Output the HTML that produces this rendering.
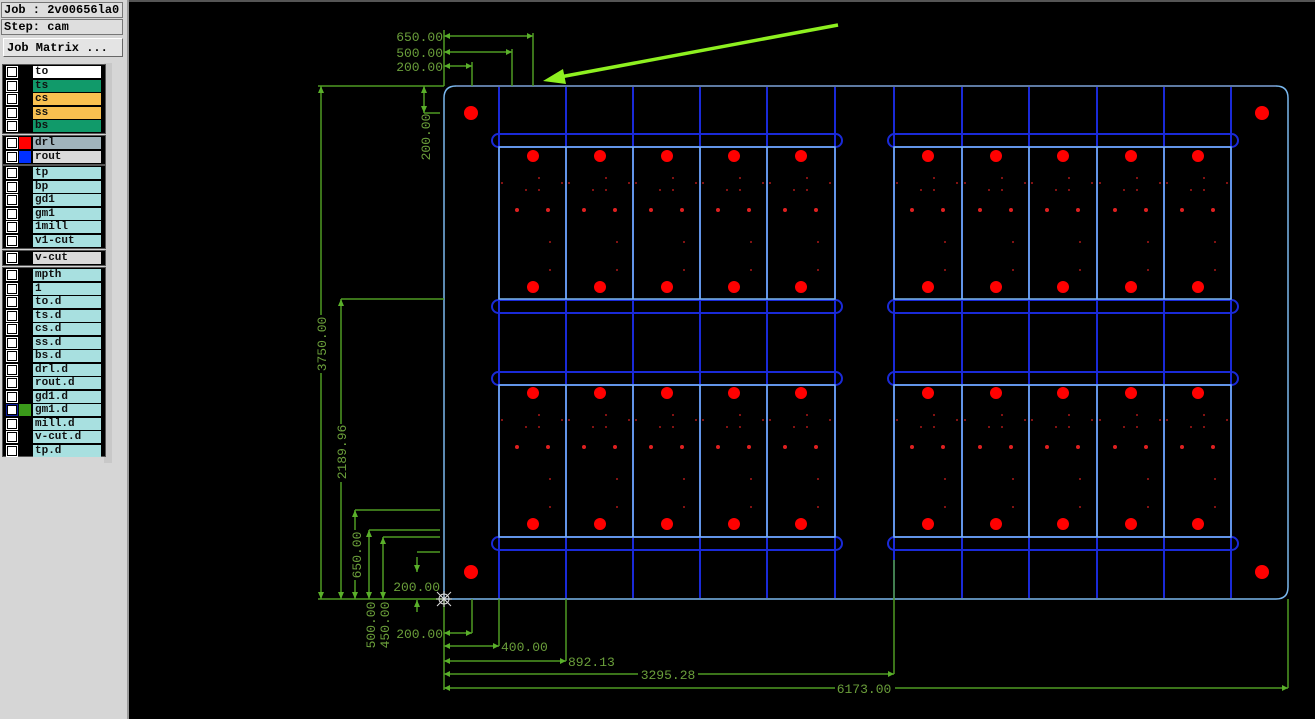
<!DOCTYPE html>
<html><head><meta charset="utf-8"><style>
body{margin:0;width:1315px;height:719px;background:#000;overflow:hidden;position:relative;font-family:"Liberation Mono","DejaVu Sans Mono",monospace;}
#panel{position:absolute;left:0;top:0;width:127px;height:719px;background:#d6d6d6;border-right:2px solid #9a9a9a;}
.hb{position:absolute;left:1px;width:122px;height:15px;border:1px solid #777;background:#dedede;font-size:12px;font-weight:bold;line-height:15px;padding-left:2px;box-sizing:border-box;height:16px;}
.btn{position:absolute;left:3px;top:38px;width:120px;height:19px;background:#e4e4e4;border:1px solid #fff;border-right-color:#666;border-bottom-color:#666;font-size:12px;font-weight:bold;line-height:19px;padding-left:3px;box-sizing:border-box;}
.grp{position:absolute;left:2px;width:102px;background:#000;border:1px solid #555;}
.sb{position:absolute;left:104px;top:63px;width:8px;height:400px;background:#c8c8c8;}
.r{position:absolute;left:0;height:12px;width:100px;}
.cb{position:absolute;left:4px;top:1px;width:8px;height:8px;background:#fff;border:1px solid #000;outline:1px solid #fff;}
.sw{position:absolute;left:16px;top:0;width:12px;height:12px;}
.lb{position:absolute;left:30px;top:0;width:68px;height:12px;font-size:11px;font-weight:bold;line-height:12px;padding-left:2px;box-sizing:border-box;color:#111;}
svg{position:absolute;left:0;top:0;}
</style></head><body>
<svg width="1315" height="719" xmlns="http://www.w3.org/2000/svg">
<defs>
<g id="cell">
<circle cx="34" cy="9" r="6" fill="#f00"/>
<circle cx="34" cy="140" r="6" fill="#f00"/>
<circle cx="3" cy="36" r="0.9" fill="#e02020"/>
<circle cx="40" cy="31" r="0.9" fill="#e02020"/>
<circle cx="63" cy="36" r="0.9" fill="#e02020"/>
<circle cx="27" cy="43" r="0.9" fill="#e02020"/>
<circle cx="40" cy="43" r="0.9" fill="#e02020"/>
<circle cx="18" cy="63" r="2" fill="#e02020"/>
<circle cx="49" cy="63" r="2" fill="#e02020"/>
<circle cx="51" cy="95" r="0.9" fill="#e02020"/>
<circle cx="51" cy="123" r="0.9" fill="#e02020"/>
</g>
</defs>
<line x1="129" y1="1" x2="1315" y2="1" stroke="#555" stroke-width="2"/>
<!-- dark blue verticals -->
<g stroke="#1a2ad8" stroke-width="2">
<line x1="499" y1="87" x2="499" y2="598"/><line x1="566" y1="87" x2="566" y2="598"/><line x1="633" y1="87" x2="633" y2="598"/><line x1="700" y1="87" x2="700" y2="598"/><line x1="767" y1="87" x2="767" y2="598"/><line x1="835" y1="87" x2="835" y2="598"/>
<line x1="894" y1="87" x2="894" y2="598"/><line x1="962" y1="87" x2="962" y2="598"/><line x1="1029" y1="87" x2="1029" y2="598"/><line x1="1097" y1="87" x2="1097" y2="598"/><line x1="1164" y1="87" x2="1164" y2="598"/><line x1="1231" y1="87" x2="1231" y2="598"/>
</g>
<!-- slots -->
<g fill="none" stroke="#1a2ad8" stroke-width="2">
<rect x="492" y="134" width="350" height="13" rx="6.5"/><rect x="492" y="300" width="350" height="13" rx="6.5"/>
<rect x="492" y="372" width="350" height="13" rx="6.5"/><rect x="492" y="537" width="350" height="13" rx="6.5"/>
<rect x="888" y="134" width="350" height="13" rx="6.5"/><rect x="888" y="300" width="350" height="13" rx="6.5"/>
<rect x="888" y="372" width="350" height="13" rx="6.5"/><rect x="888" y="537" width="350" height="13" rx="6.5"/>
</g>
<!-- panels light blue -->
<g fill="none" stroke="#7ab8ee" stroke-width="1.5">
<rect x="499" y="147" width="336" height="152"/><rect x="894" y="147" width="337" height="152"/>
<rect x="499" y="385" width="336" height="152"/><rect x="894" y="385" width="337" height="152"/>
<path d="M566 147V299M633 147V299M700 147V299M767 147V299M962 147V299M1029 147V299M1097 147V299M1164 147V299M566 385V537M633 385V537M700 385V537M767 385V537M962 385V537M1029 385V537M1097 385V537M1164 385V537"/>
</g>
<!-- board outline -->
<path d="M444 599V98Q444 86 456 86H1276Q1288 86 1288 98V587Q1288 599 1276 599Z" fill="none" stroke="#7ab8ee" stroke-width="1.5"/>
<line x1="456" y1="86" x2="1276" y2="86" stroke="#6a84b0" stroke-width="1.5"/>
<!-- corner fiducials -->
<g fill="#f00"><circle cx="471" cy="113" r="7"/><circle cx="1262" cy="113" r="7"/><circle cx="471" cy="572" r="7"/><circle cx="1262" cy="572" r="7"/></g>
<!-- cells -->
<use href="#cell" x="499" y="147"/><use href="#cell" x="566" y="147"/><use href="#cell" x="633" y="147"/><use href="#cell" x="700" y="147"/><use href="#cell" x="767" y="147"/>
<use href="#cell" x="894" y="147"/><use href="#cell" x="962" y="147"/><use href="#cell" x="1029" y="147"/><use href="#cell" x="1097" y="147"/><use href="#cell" x="1164" y="147"/>
<use href="#cell" x="499" y="384"/><use href="#cell" x="566" y="384"/><use href="#cell" x="633" y="384"/><use href="#cell" x="700" y="384"/><use href="#cell" x="767" y="384"/>
<use href="#cell" x="894" y="384"/><use href="#cell" x="962" y="384"/><use href="#cell" x="1029" y="384"/><use href="#cell" x="1097" y="384"/><use href="#cell" x="1164" y="384"/>
<!-- dimensions -->
<g stroke="#4f9a22" stroke-width="1.5" fill="none">
<path d="M318 86H444M318 599H444M341 299H444M355 510H440M369 530H440M383 537H440M417 552H440M424 113H440"/>
<path d="M444 30V86M472 62V86M512 49V86M533 33V86"/>
<path d="M444 36H533M444 52H512M444 66H472"/>
<path d="M321 86V599M341 299V599M355 510V599M369 530V599M383 537V599M424 86V113M417 557V572M417 600V612"/>
<path d="M444 599V690M472 599V633M499 599V646M566 599V661M894 560V674M1288 599V688"/>
<path d="M444 633H472M444 646H499M444 661H566M444 674H894M444 688H1288"/>
</g>
<g fill="#5ab02a">
<path d="M444 36l6-3v6zM533 36l-6-3v6zM444 52l6-3v6zM512 52l-6-3v6zM444 66l6-3v6zM472 66l-6-3v6z"/>
<path d="M321 86l-3 7h6zM321 599l-3-7h6zM341 299l-3 7h6zM341 599l-3-7h6zM355 510l-3 7h6zM355 599l-3-7h6zM369 530l-3 7h6zM369 599l-3-7h6zM383 537l-3 7h6zM383 599l-3-7h6zM424 86l-3 7h6zM424 113l-3-7h6zM417 572l-3-7h6zM417 600l-3 7h6z"/>
<path d="M444 633l6-3v6zM472 633l-6-3v6zM444 646l6-3v6zM499 646l-6-3v6zM444 661l6-3v6zM566 661l-6-3v6zM444 674l6-3v6zM894 674l-6-3v6zM444 688l6-3v6zM1288 688l-6-3v6z"/>
</g>
<g font-family="Liberation Mono, monospace" font-size="13" fill="#6a9e3a">
<text x="443" y="41" text-anchor="end">650.00</text>
<text x="443" y="57" text-anchor="end">500.00</text>
<text x="443" y="71" text-anchor="end">200.00</text>
<text x="443" y="638" text-anchor="end">200.00</text>
<text x="440" y="591" text-anchor="end">200.00</text>
<text x="501" y="651">400.00</text>
<text x="568" y="666">892.13</text>
<rect x="638" y="668" width="60" height="13" fill="#000"/>
<text x="668" y="679" text-anchor="middle">3295.28</text>
<rect x="835" y="682" width="60" height="13" fill="#000"/>
<text x="864" y="693" text-anchor="middle">6173.00</text>
<rect x="314" y="315" width="14" height="58" fill="#000"/>
<text transform="translate(326,344) rotate(-90)" text-anchor="middle">3750.00</text>
<rect x="334" y="424" width="14" height="58" fill="#000"/>
<text transform="translate(346,452) rotate(-90)" text-anchor="middle">2189.96</text>
<rect x="349" y="530" width="14" height="50" fill="#000"/>
<text transform="translate(361,555) rotate(-90)" text-anchor="middle">650.00</text>
<text transform="translate(430,137) rotate(-90)" text-anchor="middle">200.00</text>
<text transform="translate(375,625) rotate(-90)" text-anchor="middle">500.00</text>
<text transform="translate(389,625) rotate(-90)" text-anchor="middle">450.00</text>
</g>
<!-- crosshair -->
<g stroke="#ddd" stroke-width="1" fill="none"><circle cx="444" cy="599" r="5"/><path d="M437 592L451 606M451 592L437 606M444 591V607M436 599H452"/></g>
<!-- green arrow -->
<line x1="838" y1="25" x2="560" y2="77" stroke="#8ef020" stroke-width="3.5"/>
<path d="M543 81L563 69L566 84Z" fill="#8ef020"/>
</svg>
<div id="panel">
<div class="hb" style="top:2px">Job : 2v00656la0</div>
<div class="hb" style="top:19px">Step: cam</div>
<div class="btn">Job Matrix ...</div>
<div class="sb"></div>
<div class="grp" style="top:64px;height:68px">
<div class="r" style="top:1px"><div class="cb"></div><div class="lb" style="background:#fff">to</div></div>
<div class="r" style="top:14.5px"><div class="cb"></div><div class="lb" style="background:#119a6a">ts</div></div>
<div class="r" style="top:28px"><div class="cb"></div><div class="lb" style="background:#f8c050">cs</div></div>
<div class="r" style="top:41.5px"><div class="cb"></div><div class="lb" style="background:#f8c050">ss</div></div>
<div class="r" style="top:55px"><div class="cb"></div><div class="lb" style="background:#119a6a">bs</div></div>
</div>
<div class="grp" style="top:135px;height:28px">
<div class="r" style="top:1px"><div class="cb"></div><div class="sw" style="background:#f00"></div><div class="lb" style="background:#a0b4bc">drl</div></div>
<div class="r" style="top:14.5px"><div class="cb"></div><div class="sw" style="background:#0030ff"></div><div class="lb" style="background:#dadada">rout</div></div>
</div>
<div class="grp" style="top:165px;height:82px">
<div class="r" style="top:1px"><div class="cb"></div><div class="lb" style="background:#a8e0e0">tp</div></div>
<div class="r" style="top:14.5px"><div class="cb"></div><div class="lb" style="background:#a8e0e0">bp</div></div>
<div class="r" style="top:28px"><div class="cb"></div><div class="lb" style="background:#a8e0e0">gd1</div></div>
<div class="r" style="top:41.5px"><div class="cb"></div><div class="lb" style="background:#a8e0e0">gm1</div></div>
<div class="r" style="top:55px"><div class="cb"></div><div class="lb" style="background:#a8e0e0">1mill</div></div>
<div class="r" style="top:68.5px"><div class="cb"></div><div class="lb" style="background:#a8e0e0">v1-cut</div></div>
</div>
<div class="grp" style="top:250px;height:14px">
<div class="r" style="top:1px"><div class="cb"></div><div class="lb" style="background:#dadada">v-cut</div></div>
</div>
<div class="grp" style="top:267px;height:188px">
<div class="r" style="top:1px"><div class="cb"></div><div class="lb" style="background:#a8e0e0">mpth</div></div>
<div class="r" style="top:14.5px"><div class="cb"></div><div class="lb" style="background:#a8e0e0">1</div></div>
<div class="r" style="top:28px"><div class="cb"></div><div class="lb" style="background:#a8e0e0">to.d</div></div>
<div class="r" style="top:41.5px"><div class="cb"></div><div class="lb" style="background:#a8e0e0">ts.d</div></div>
<div class="r" style="top:55px"><div class="cb"></div><div class="lb" style="background:#a8e0e0">cs.d</div></div>
<div class="r" style="top:68.5px"><div class="cb"></div><div class="lb" style="background:#a8e0e0">ss.d</div></div>
<div class="r" style="top:82px"><div class="cb"></div><div class="lb" style="background:#a8e0e0">bs.d</div></div>
<div class="r" style="top:95.5px"><div class="cb"></div><div class="lb" style="background:#a8e0e0">drl.d</div></div>
<div class="r" style="top:109px"><div class="cb"></div><div class="lb" style="background:#a8e0e0">rout.d</div></div>
<div class="r" style="top:122.5px"><div class="cb"></div><div class="lb" style="background:#a8e0e0">gd1.d</div></div>
<div class="r" style="top:136px"><div class="cb" style="outline-color:#1020a0"></div><div class="sw" style="background:#3a9a1a"></div><div class="lb" style="background:#a8e0e0">gm1.d</div></div>
<div class="r" style="top:149.5px"><div class="cb"></div><div class="lb" style="background:#a8e0e0">mill.d</div></div>
<div class="r" style="top:163px"><div class="cb"></div><div class="lb" style="background:#a8e0e0">v-cut.d</div></div>
<div class="r" style="top:176.5px"><div class="cb"></div><div class="lb" style="background:#a8e0e0">tp.d</div></div>
</div>
</div>
</body></html>
